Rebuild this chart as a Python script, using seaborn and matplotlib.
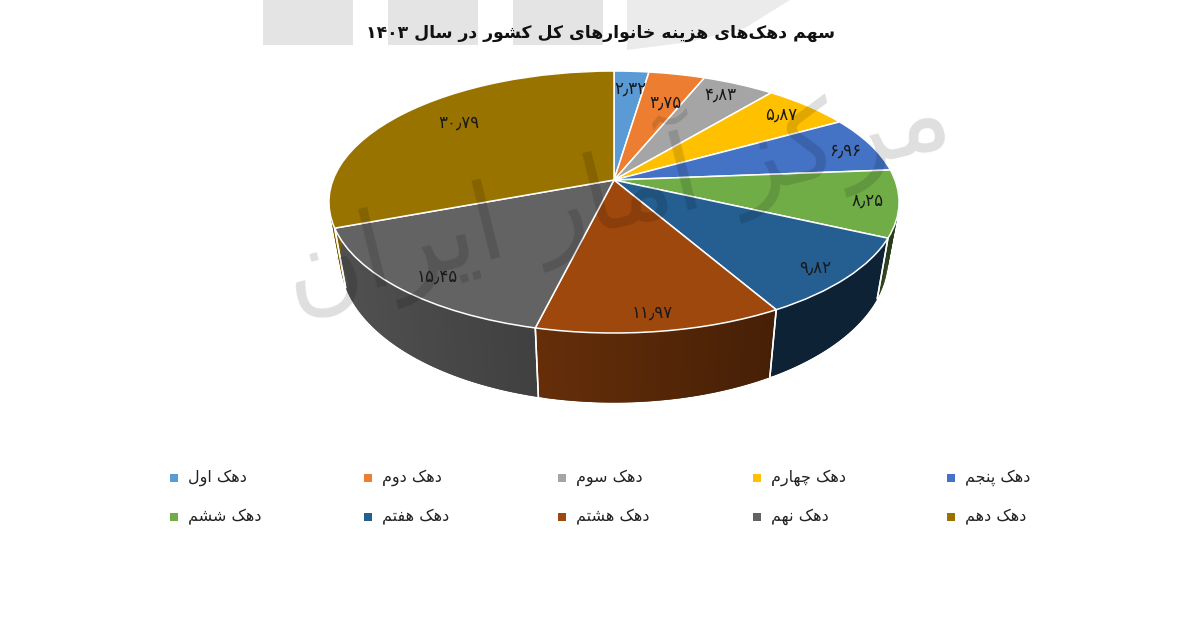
import numpy as np
import matplotlib
matplotlib.use("Agg")
import matplotlib.pyplot as plt
import seaborn as sns
from matplotlib.path import Path
from matplotlib.transforms import Transform

LABELS = ["دهک اول", "دهک دوم", "دهک سوم", "دهک چهارم", "دهک پنجم",
          "دهک ششم", "دهک هفتم", "دهک هشتم", "دهک نهم", "دهک دهم"]
VALUES = [2.32, 3.75, 4.83, 5.87, 6.96, 8.25, 9.82, 11.97, 15.45, 30.79]
VALUE_TEXT = ["۲٫۳۲", "۳٫۷۵", "۴٫۸۳", "۵٫۸۷", "۶٫۹۶", "۸٫۲۵", "۹٫۸۲", "۱۱٫۹۷", "۱۵٫۴۵", "۳۰٫۷۹"]
COLORS = ["#5B9BD5", "#ED7D31", "#A5A5A5", "#FFC000", "#4472C4",
          "#70AD47", "#255E91", "#9E480E", "#636363", "#997300"]
TITLE = "سهم دهک‌های هزینه خانوارهای کل کشور در سال ۱۴۰۳"
WATERMARK = "مرکز آمار ایران"
LABEL_XY = [(630, 89), (665, 103), (720, 95), (781, 115), (845, 151),
            (868, 201), (815, 268), (652, 313), (437, 277), (459, 123)]

FORMS = {
    "ا": (0xFE8D, 0xFE8E, None, None), "آ": (0xFE81, 0xFE82, None, None),
    "ب": (0xFE8F, 0xFE90, 0xFE91, 0xFE92), "پ": (0xFB56, 0xFB57, 0xFB58, 0xFB59),
    "ت": (0xFE95, 0xFE96, 0xFE97, 0xFE98), "ج": (0xFE9D, 0xFE9E, 0xFE9F, 0xFEA0),
    "چ": (0xFB7A, 0xFB7B, 0xFB7C, 0xFB7D), "خ": (0xFEA5, 0xFEA6, 0xFEA7, 0xFEA8),
    "د": (0xFEA9, 0xFEAA, None, None), "ر": (0xFEAD, 0xFEAE, None, None),
    "ز": (0xFEAF, 0xFEB0, None, None), "س": (0xFEB1, 0xFEB2, 0xFEB3, 0xFEB4),
    "ش": (0xFEB5, 0xFEB6, 0xFEB7, 0xFEB8), "ف": (0xFED1, 0xFED2, 0xFED3, 0xFED4),
    "ک": (0xFB8E, 0xFB8F, 0xFB90, 0xFB91), "ل": (0xFEDD, 0xFEDE, 0xFEDF, 0xFEE0),
    "م": (0xFEE1, 0xFEE2, 0xFEE3, 0xFEE4), "ن": (0xFEE5, 0xFEE6, 0xFEE7, 0xFEE8),
    "و": (0xFEED, 0xFEEE, None, None), "ه": (0xFEE9, 0xFEEA, 0xFEEB, 0xFEEC),
    "ی": (0xFBFC, 0xFBFD, 0xFBFE, 0xFBFF),
}


def shape(text):
    """Join Persian letters into contextual forms and lay them out for left-to-right drawing."""
    out = []
    for i, ch in enumerate(text):
        if ch not in FORMS:
            if ch != "\u200c":
                out.append(ch)
            continue
        prev = text[i - 1] if i else ""
        nxt = text[i + 1] if i + 1 < len(text) else ""
        joins_prev = prev in FORMS and FORMS[prev][2] is not None
        joins_next = nxt in FORMS and FORMS[ch][2] is not None
        form = 3 if joins_prev and joins_next else 1 if joins_prev else 2 if joins_next else 0
        out.append(chr(FORMS[ch][form]))
    runs, buf = [], ""
    for c in out:
        if c in "۰۱۲۳۴۵۶۷۸۹":
            buf += c
        else:
            if buf:
                runs.append(buf)
                buf = ""
            runs.append(c)
    if buf:
        runs.append(buf)
    return "".join(reversed(runs))


class Perspective(Transform):
    """Tilted disc: unit-circle pie coordinates to pixels."""
    input_dims = output_dims = 2
    has_inverse = False

    def __init__(self, cx, cy, ax_, ay_, k=0.168):
        super().__init__()
        self.cx, self.cy, self.ax_, self.ay_, self.k = cx, cy, ax_, ay_, k

    def transform_non_affine(self, xy):
        xy = np.asarray(xy, float)
        w = 1 + self.k * xy[:, 1]
        return np.column_stack((self.cx + self.ax_ * xy[:, 0] / w,
                                self.cy - self.ay_ * xy[:, 1] / w))

    def transform_path_non_affine(self, path):
        return Path(self.transform_non_affine(path.vertices), path.codes)


sns.set_theme(style="white")
plt.rcParams["font.family"] = ["DejaVu Sans"]
palette = sns.color_palette(COLORS)

fig = plt.figure(figsize=(12, 6.22), dpi=100)
ax = fig.add_axes([0, 0, 1, 1])

top_map = Perspective(614, 180, 281, 127.3)
bot_map = Perspective(614, 235, 270, 139.4)

wedges, _ = ax.pie(VALUES, colors=palette, startangle=90, counterclock=False, radius=1,
                   wedgeprops=dict(edgecolor="white", linewidth=1.1))
ax.set_aspect("auto")
ax.set_xlim(0, 1200)
ax.set_ylim(622, 0)
ax.set_axis_off()

# side walls, shaded along the arc (strips overlap so no seams show)
for wedge, col in zip(wedges, palette):
    t1, t2 = wedge.theta1, wedge.theta2
    if np.sin(np.radians((t1 + t2) / 2)) > 0.6:
        continue
    steps = np.linspace(t1, t2, 50)
    c = np.array(col)
    for j, a in enumerate(steps[:-1]):
        b = steps[min(j + 2, len(steps) - 1)]
        ring = np.radians([a, b])
        uv = np.column_stack((np.cos(ring), np.sin(ring)))
        p_top = top_map.transform_non_affine(uv)
        p_bot = bot_map.transform_non_affine(uv)
        xm = (p_top[:, 0].mean() - 614) / 284
        shade = 0.58 - 0.24 * xm if col != palette[6] else 0.36
        q = np.vstack((p_top, p_bot[::-1]))
        ax.fill(q[:, 0], q[:, 1], facecolor=c * shade, edgecolor="none", lw=0, zorder=1)
    ring = np.radians([t1, t2])
    uv = np.column_stack((np.cos(ring), np.sin(ring)))
    p_top = top_map.transform_non_affine(uv)
    p_bot = bot_map.transform_non_affine(uv)
    for i in range(2):
        if uv[i, 1] < -0.2:
            ax.plot([p_top[i, 0], p_bot[i, 0]], [p_top[i, 1], p_bot[i, 1]],
                    color="white", lw=1.1, zorder=1.5)

# top face: the pie itself, through the tilt
for wedge in wedges:
    wedge.set_transform(wedge.get_patch_transform() + top_map + ax.transData)
    wedge.set_zorder(2)
    wedge.set_clip_on(False)

for (x, y), s in zip(LABEL_XY, VALUE_TEXT):
    ax.text(x, y, s, ha="center", va="center", fontsize=12, color="#1a1a1a", zorder=4)

# watermark
block = (0, 0, 0, 0.105)
for x0, x1 in [(263, 353), (388, 478), (513, 603)]:
    ax.fill_between([x0, x1], 0, 45, color=block, lw=0, zorder=0.5)
ax.fill([627, 790, 745, 690, 627], [0, 0, 28, 42, 50], color=(0, 0, 0, 0.08), lw=0, zorder=0.5)
ax.text(615, 190, shape(WATERMARK), ha="center", va="center", fontsize=76, rotation=14,
        color=(0, 0, 0, 0.13), zorder=3)

ax.text(601, 33, shape(TITLE), ha="center", va="center", fontsize=12.4, fontweight="bold",
        color="#111111", zorder=5)

# legend grid
for i, (lab, col) in enumerate(zip(LABELS, palette)):
    lx = 174 + 194.2 * (i % 5)
    ly = 478 + 39 * (i // 5)
    ax.scatter([lx], [ly], marker="s", s=34, color=[col], linewidths=0, zorder=5)
    ax.text(lx + 14, ly, shape(lab), ha="left", va="center", fontsize=11.5,
            color="#222222", zorder=5)

fig.savefig("out.png", dpi=100)
